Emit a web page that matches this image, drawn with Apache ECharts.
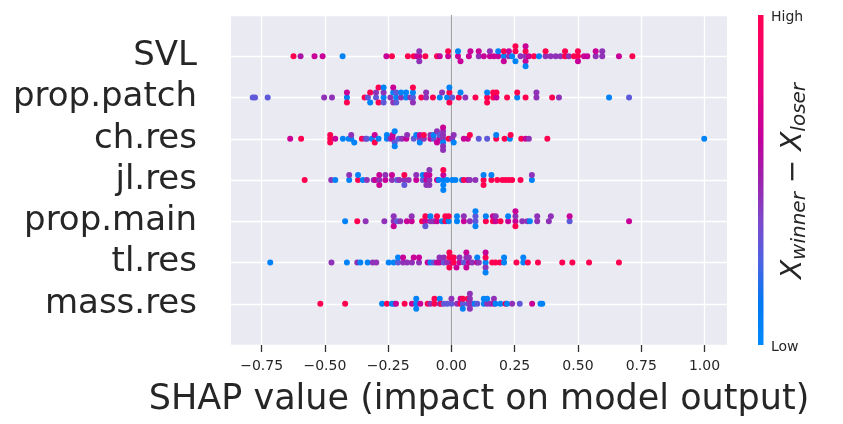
<!DOCTYPE html>
<html><head><meta charset="utf-8">
<script src="https://cdn.jsdelivr.net/npm/echarts@6/dist/echarts.min.js"></script>
<style>html,body{margin:0;padding:0;background:#fff}#c{width:843px;height:424px}</style>
</head><body><div id="c"></div>
<script>
// features listed bottom -> top
const features = ['mass.res','tl.res','prop.main','jl.res','ch.res','prop.patch','SVL'];
const xTicks = [-0.75,-0.5,-0.25,0,0.25,0.5,0.75,1.0];

const svlX = [-0.624,-0.596,-0.541,-0.509,-0.430,-0.257,-0.235,-0.172,-0.149,-0.136,-0.127,-0.127,-0.127,-0.103,-0.057,-0.046,-0.013,-0.013,0.026,0.026,0.036,0.069,0.075,0.108,0.108,0.128,0.152,0.152,0.168,0.185,0.185,0.207,0.207,0.207,0.227,0.227,0.240,0.253,0.253,0.253,0.273,0.293,0.293,0.293,0.293,0.293,0.306,0.326,0.346,0.372,0.372,0.392,0.412,0.431,0.449,0.449,0.464,0.484,0.500,0.500,0.500,0.524,0.537,0.570,0.570,0.596,0.596,0.662,0.715];
const svlC = [1,.55,.65,.65,.05,.65,1,1,1,.65,.65,.45,.45,1,1,.65,.65,1,.65,.05,.65,.65,.65,.45,.65,.65,.65,.45,.65,.65,.05,.05,1,.65,.45,.65,.05,1,.05,1,.45,.45,1,.65,.65,.05,.65,1,.05,.45,1,.45,.45,.45,1,1,.45,1,1,1,.65,.65,.65,.45,.65,.45,.45,.65,1];

const ppX = [-0.785,-0.776,-0.726,-0.503,-0.472,-0.413,-0.413,-0.413,-0.343,-0.330,-0.321,-0.321,-0.298,-0.298,-0.288,-0.288,-0.268,-0.268,-0.268,-0.268,-0.241,-0.230,-0.230,-0.230,-0.218,-0.218,-0.218,-0.199,-0.199,-0.179,-0.179,-0.162,-0.152,-0.152,-0.152,-0.152,-0.119,-0.100,-0.100,-0.073,-0.046,-0.037,-0.017,-0.008,-0.008,-0.008,0.003,0.029,0.036,0.055,0.095,0.141,0.141,0.141,0.165,0.165,0.178,0.178,0.220,0.260,0.260,0.293,0.336,0.336,0.398,0.425,0.623,0.702];
const ppC = [.3,.3,.3,.45,.45,.05,.65,1,1,.3,1,.05,.3,.45,1,1,.05,.45,.3,.05,.45,.05,.45,.65,.05,.3,.3,.45,.05,.05,.05,.45,.3,.05,.45,1,1,.45,.45,1,.05,.45,.05,1,1,.05,.3,1,.05,.45,1,1,.05,1,1,1,.65,1,1,.05,1,1,.45,.45,1,.45,.05,.3];

const chX = [-0.637,-0.594,-0.479,-0.479,-0.479,-0.459,-0.429,-0.406,-0.396,-0.396,-0.384,-0.354,-0.340,-0.334,-0.314,-0.303,-0.303,-0.288,-0.255,-0.255,-0.241,-0.232,-0.232,-0.224,-0.224,-0.224,-0.208,-0.195,-0.178,-0.175,-0.149,-0.139,-0.125,-0.125,-0.125,-0.109,-0.109,-0.083,-0.083,-0.070,-0.070,-0.057,-0.057,-0.047,-0.047,-0.033,-0.033,-0.033,-0.033,-0.033,-0.033,-0.033,-0.011,0.003,0.009,0.009,0.049,0.065,0.073,0.108,0.141,0.177,0.177,0.210,0.231,0.234,0.276,0.293,0.306,0.379,0.999];
const chC = [.65,1,1,1,1,.65,.05,.05,.05,.45,.05,1,.45,.3,.05,.65,1,.05,.05,.05,.45,.65,.65,.3,.05,.05,.3,.45,.65,.45,.3,.05,.45,.65,.05,.45,1,.65,.45,.3,.05,.65,.45,.65,.3,.45,.45,.05,.45,.45,.65,.45,1,.45,.45,.05,.65,.65,1,.3,.3,1,.05,1,.05,1,1,.65,.45,1,.05];

const jlX = [-0.580,-0.475,-0.459,-0.404,-0.404,-0.369,-0.369,-0.350,-0.334,-0.307,-0.301,-0.285,-0.285,-0.285,-0.261,-0.261,-0.235,-0.235,-0.215,-0.206,-0.186,-0.186,-0.186,-0.169,-0.139,-0.139,-0.113,-0.113,-0.099,-0.099,-0.099,-0.087,-0.087,-0.087,-0.087,-0.057,-0.050,-0.032,-0.032,-0.032,-0.032,-0.032,-0.017,0.003,0.016,0.042,0.049,0.065,0.073,0.095,0.127,0.127,0.127,0.158,0.158,0.181,0.201,0.214,0.227,0.240,0.273,0.318,0.318];
const jlC = [1,.45,.05,.05,.45,1,.05,.05,.45,.45,.65,.45,.65,.65,.65,.45,.45,.65,.3,.45,.45,1,.3,.45,.65,.45,.3,.05,.65,.65,.45,.45,.65,.45,.45,.65,.05,.05,.65,.05,1,.05,.05,.05,.05,.05,1,.65,.45,.45,1,.05,1,1,.05,1,1,1,1,1,1,.05,.45];

const pmX = [-0.420,-0.372,-0.339,-0.265,-0.228,-0.228,-0.228,-0.215,-0.202,-0.176,-0.157,-0.157,-0.116,-0.103,-0.103,-0.103,-0.083,-0.083,-0.070,-0.057,-0.057,-0.037,-0.024,-0.024,-0.011,-0.011,0.022,0.022,0.049,0.049,0.073,0.095,0.095,0.095,0.095,0.136,0.136,0.164,0.164,0.175,0.175,0.194,0.224,0.224,0.253,0.253,0.253,0.253,0.280,0.300,0.310,0.339,0.339,0.385,0.393,0.467,0.467,0.702];
const pmC = [.05,1,.45,.45,.45,.45,.65,.3,.45,.65,.65,.45,1,.65,1,.3,.45,.05,.45,.65,1,.05,1,1,.05,1,.05,.05,.65,.45,.45,.3,.3,.05,.05,1,.05,1,.65,.65,.45,1,.65,.05,.65,.45,1,.65,.45,.45,.05,.45,.45,.45,.45,.3,.65,.65];

const tlX = [-0.716,-0.474,-0.413,-0.372,-0.360,-0.331,-0.311,-0.297,-0.248,-0.228,-0.211,-0.211,-0.191,-0.191,-0.175,-0.156,-0.149,-0.128,-0.128,-0.094,-0.083,-0.070,-0.057,-0.047,-0.047,-0.030,-0.030,-0.017,-0.008,-0.008,-0.008,0.003,0.003,0.009,0.009,0.020,0.032,0.032,0.049,0.059,0.059,0.059,0.069,0.069,0.082,0.102,0.102,0.108,0.135,0.135,0.135,0.135,0.135,0.161,0.174,0.191,0.208,0.208,0.257,0.284,0.284,0.302,0.342,0.438,0.478,0.544,0.662];
const tlC = [.05,.45,.05,.45,.05,.05,.45,.45,.05,.05,.3,.05,.45,.65,.45,.45,.65,.45,.65,.65,.05,.3,.65,.65,.45,.3,.45,.45,1,1,1,.65,1,1,1,.65,.65,.45,.3,.45,.65,.65,.65,.45,.45,.65,.05,.45,.05,1,.45,.65,.05,1,1,1,.05,.05,1,.05,.05,1,1,1,1,1,1];

const massX = [-0.518,-0.420,-0.274,-0.255,-0.235,-0.226,-0.219,-0.185,-0.156,-0.139,-0.139,-0.139,-0.123,-0.094,-0.083,-0.067,-0.067,-0.046,-0.046,-0.040,-0.030,-0.017,0.000,0.000,0.022,0.036,0.036,0.045,0.045,0.045,0.065,0.065,0.073,0.073,0.073,0.073,0.084,0.092,0.102,0.128,0.128,0.141,0.141,0.154,0.168,0.168,0.174,0.194,0.214,0.220,0.240,0.270,0.319,0.352,0.359];
const massC = [1,1,.05,1,.05,.05,.65,1,.65,.05,.05,.05,.65,1,.45,1,1,.45,.05,1,.3,.3,.3,.45,.45,1,.65,.3,1,.05,.3,1,.45,.45,.45,.45,.45,.05,.3,.05,.05,.45,.05,.45,.65,.45,.05,.05,1,.05,.45,.3,.65,.05,.05];

const rows = [[massX,massC],[tlX,tlC],[pmX,pmC],[jlX,jlC],[chX,chC],[ppX,ppC],[svlX,svlC]];

// SHAP-style colormap (blue -> purple -> red)
const cmap = ['#008bfb','#0078f3','#4b63e3','#7d49cb','#9c23ac','#c2009c','#e00086','#f5006c','#ff0051'];

// beeswarm stacking as in shap's summary plot
function swarm(xs) {
  const mn = Math.min(...xs), mx = Math.max(...xs);
  const q = xs.map(v => Math.round(100 * (v - mn) / (mx - mn + 1e-8)));
  const idx = xs.map((_, i) => i).sort((a, b) => (q[a] - q[b]) || (a - b));
  const ys = new Array(xs.length).fill(0);
  let layer = 0, last = -1;
  for (const i of idx) {
    if (q[i] !== last) layer = 0;
    ys[i] = Math.ceil(layer / 2) * ((layer % 2) * 2 - 1);
    layer++; last = q[i];
  }
  const m = Math.max(...ys.map(y => y + 1));
  return ys.map(y => y * 0.9 * 0.4 / m);
}

const data = [];
rows.forEach(([xs, cs], r) => {
  const off = swarm(xs);
  xs.forEach((x, i) => data.push([x, r + off[i], cs[i]]));
});

const FONT = 'DejaVu Sans';
const TXT = '#262626';
const fmt = v => (v < 0 ? '\u2212' : '') + Math.abs(v).toFixed(2);

const chart = echarts.init(document.getElementById('c'), null, {renderer: 'canvas'});
chart.setOption({
  animation: false,
  backgroundColor: '#ffffff',
  textStyle: {fontFamily: FONT},
  grid: {left: 231, right: 116, top: 15, bottom: 79, show: true, backgroundColor: '#eaeaf2', borderWidth: 0,
         containLabel: false, outerBoundsMode: 'none'},
  xAxis: {
    type: 'value', min: -0.871, max: 1.089,
    name: 'SHAP value (impact on model output)', nameLocation: 'middle', nameGap: 37,
    nameTextStyle: {fontSize: 35, color: TXT, fontFamily: FONT},
    nameMoveOverlap: false,
    axisLine: {show: true, onZero: false, lineStyle: {color: 'rgba(0,0,0,0)'}},
    axisTick: {show: true, customValues: xTicks, length: 7, lineStyle: {color: '#333', width: 1.3}},
    axisLabel: {customValues: xTicks, formatter: fmt, fontSize: 14, color: TXT, margin: 14, fontFamily: FONT},
    splitLine: {show: true, lineStyle: {color: '#ffffff', width: 1.3}}
  },
  yAxis: {
    type: 'value', min: -1, max: 7, interval: 1,
    axisLine: {show: false, onZero: false}, axisTick: {show: false},
    axisLabel: {formatter: v => features[v] || '', fontSize: 34, color: TXT, margin: 34, fontFamily: FONT},
    splitLine: {show: true, lineStyle: {color: '#ffffff', width: 1.3}}
  },
  visualMap: {show: false, type: 'continuous', dimension: 2, min: 0, max: 1, seriesIndex: 1, inRange: {color: cmap}},
  series: [
    {type: 'line', data: [[0, -1], [0, 7]], symbol: 'none', silent: true, z: 1,
     lineStyle: {color: '#999999', width: 1}},
    {type: 'scatter', data: data, symbolSize: 6, z: 2, itemStyle: {opacity: 1}}
  ],
  graphic: [
    {type: 'rect', shape: {x: 758, y: 15, width: 5.5, height: 330}, silent: true,
     style: {fill: new echarts.graphic.LinearGradient(0, 1, 0, 0,
       cmap.map((c, i) => ({offset: i / (cmap.length - 1), color: c})))}},
    {type: 'text', x: 771, y: 17, silent: true,
     style: {text: 'High', fontSize: 14, fill: TXT, fontFamily: FONT, verticalAlign: 'middle', align: 'left'}},
    {type: 'text', x: 771, y: 347, silent: true,
     style: {text: 'Low', fontSize: 14, fill: TXT, fontFamily: FONT, verticalAlign: 'middle', align: 'left'}},
    {type: 'text', x: 794, y: 181, rotation: Math.PI / 2, silent: true,
     style: {
       text: '{x|X}{s|winner}{m| \u2212 }{x|X}{s|loser}',
       align: 'center', verticalAlign: 'middle', fill: TXT,
       rich: {
         x: {fontSize: 28, fontStyle: 'italic', fontFamily: FONT, fill: TXT, lineHeight: 32, verticalAlign: 'middle'},
         s: {fontSize: 20, fontStyle: 'italic', fontFamily: FONT, fill: TXT, lineHeight: 20, padding: [16, 0, 0, 0], verticalAlign: 'bottom'},
         m: {fontSize: 28, fontFamily: FONT, fill: TXT, lineHeight: 32, verticalAlign: 'middle'}
       }
     }}
  ]
});
</script>
</body></html>
